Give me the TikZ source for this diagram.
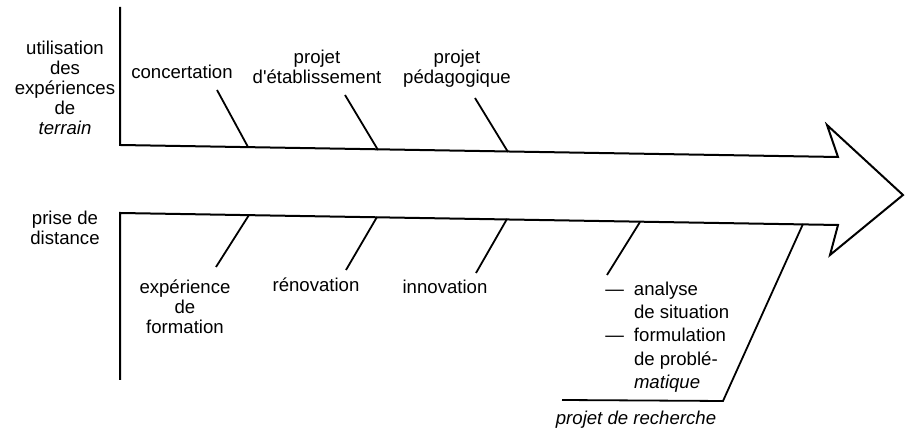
\documentclass[tikz,border=0pt]{standalone}
\usepackage{fontspec}
\setmainfont{Liberation Sans}
% straight apostrophe, set as a glyph so that no input mapping curls it
\newcommand{\strapos}{\XeTeXglyph\XeTeXcharglyph"0027\relax}
\begin{document}
\begin{tikzpicture}[x=0.5pt,y=-0.5pt,
  axis/.style={line width=1pt,line join=miter},
  branch/.style={line width=0.9pt},
  lbl/.style={inner sep=0pt,align=center,font=\fontsize{9.3}{10}\selectfont},
  lst/.style={inner sep=0pt,align=left,font=\fontsize{9.3}{11.6}\selectfont}]
\useasboundingbox (0,0) rectangle (906,431);

% outline of the two axes and the big arrow
\coordinate (vt) at (120,7);
\coordinate (o1) at (120,145);
\coordinate (n1) at (838,157);
\coordinate (h1) at (827,125);
\coordinate (tip) at (903,195);
\coordinate (h2) at (830,255);
\coordinate (n2) at (838,225);
\coordinate (o2) at (120,213);
\coordinate (vb) at (120,380);
\draw[axis] (vt) -- (o1) -- (n1) -- (h1) -- (tip) -- (h2) -- (n2) -- (o2) -- (vb);

% side labels
\node[lbl] (terrain) at (65,88) {utilisation\\des\\expériences\\de\\\textit{terrain}};
\node[lbl] (distance) at (65,228) {prise de\\distance};

% upper branches
\node[lbl] (conc) at (182,72) {concertation};
\node[lbl] (etab) at (317,67) {projet\\d\strapos établissement};
\node[lbl] (peda) at (457,69) {projet\\pédagogique};
\coordinate (c1) at (217,90);  \coordinate (a1) at (248,147);
\coordinate (c2) at (345,95);  \coordinate (a2) at (378,150);
\coordinate (c3) at (475,98);  \coordinate (a3) at (508,152);
\draw[branch] (c1) -- (a1);
\draw[branch] (c2) -- (a2);
\draw[branch] (c3) -- (a3);

% lower branches
\node[lbl] (form) at (185,307) {expérience\\de\\formation};
\node[lbl] (renov) at (316,285) {rénovation};
\node[lbl] (innov) at (445,287) {innovation};
\node[lst,anchor=west] (anal) at (605,337)
  {—\hspace{5pt}analyse\\
   \hphantom{—\hspace{5pt}}de situation\\
   —\hspace{5pt}formulation\\
   \hphantom{—\hspace{5pt}}de problé-\\
   \hphantom{—\hspace{5pt}}\textit{matique}};
\coordinate (b1) at (249,215); \coordinate (d1) at (216,267);
\coordinate (b2) at (377,217); \coordinate (d2) at (346,270);
\coordinate (b3) at (507,219); \coordinate (d3) at (476,273);
\coordinate (b4) at (640,222); \coordinate (d4) at (607,275);
\draw[branch] (b1) -- (d1);
\draw[branch] (b2) -- (d2);
\draw[branch] (b3) -- (d3);
\draw[branch] (b4) -- (d4);

% research project frame
\coordinate (r1) at (803,224);
\coordinate (r2) at (723,401);
\coordinate (r3) at (562,400);
\draw[branch] (r1) -- (r2) -- (r3);
\node[lbl] (rech) at (636,420) {\textit{projet de recherche}};
\end{tikzpicture}
\end{document}
